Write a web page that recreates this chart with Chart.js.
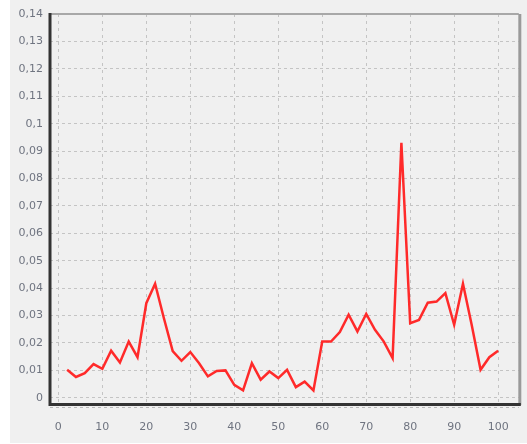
<!DOCTYPE html>
<html>
<head>
<meta charset="utf-8">
<script src="https://cdn.jsdelivr.net/npm/chart.js@4/dist/chart.umd.min.js"></script>
<style>
html,body{margin:0;padding:0;background:#ffffff;}
#wrap{width:527px;height:444px;}
</style>
</head>
<body>
<div id="wrap"><canvas id="c" width="527" height="444"></canvas></div>
<script>
const xValues = [2,4,6,8,10,12,14,16,18,20,22,24,26,28,30,32,34,36,38,40,42,44,46,48,50,52,54,56,58,60,62,64,66,68,70,72,74,76,78,80,82,84,86,88,90,92,94,96,98,100];
const yValues = [0.0102,0.0076,0.0090,0.0123,0.0106,0.0172,0.0129,0.0205,0.0148,0.0345,0.0416,0.0290,0.0170,0.0135,0.0167,0.0126,0.0078,0.0098,0.0100,0.0047,0.0027,0.0126,0.0066,0.0096,0.0072,0.0102,0.0039,0.0059,0.0027,0.0205,0.0205,0.0240,0.0303,0.0242,0.0306,0.0248,0.0205,0.0145,0.0930,0.0272,0.0284,0.0347,0.0351,0.0382,0.0266,0.0416,0.0265,0.0102,0.0148,0.0172];
const xTicks = [0,10,20,30,40,50,60,70,80,90,100];
const yTicks = [0,0.01,0.02,0.03,0.04,0.05,0.06,0.07,0.08,0.09,0.1,0.11,0.12,0.13,0.14];

const points = xValues.map((x,i)=>({x:x,y:yValues[i]}));

const frame = {
  id:'frame',
  beforeDraw(chart){
    const ctx = chart.ctx;
    ctx.save();
    ctx.fillStyle = '#ffffff';
    ctx.fillRect(0,0,chart.width,chart.height);
    ctx.fillStyle = '#f0f0f0';
    ctx.fillRect(10,0,chart.width-10,chart.height-1);
    ctx.restore();
  },
  afterDraw(chart){
    const a = chart.chartArea, ctx = chart.ctx;
    ctx.save();
    ctx.lineCap = 'butt';
    // top border
    ctx.strokeStyle = '#a8a8a8'; ctx.lineWidth = 2;
    ctx.beginPath(); ctx.moveTo(a.left, a.top); ctx.lineTo(a.right, a.top); ctx.stroke();
    // right border
    ctx.strokeStyle = '#9a9a9a'; ctx.lineWidth = 3;
    ctx.beginPath(); ctx.moveTo(a.right+1, a.top); ctx.lineTo(a.right+1, a.bottom+2); ctx.stroke();
    // bottom shadow
    ctx.strokeStyle = '#b8b8b8'; ctx.lineWidth = 1; ctx.setLineDash([3,3]);
    ctx.beginPath(); ctx.moveTo(a.left, a.bottom+4.5); ctx.lineTo(a.right, a.bottom+4.5); ctx.stroke();
    ctx.setLineDash([]);
    // left & bottom axes
    ctx.strokeStyle = '#333333'; ctx.lineWidth = 3;
    ctx.beginPath(); ctx.moveTo(a.left, a.top-1); ctx.lineTo(a.left, a.bottom+1.5); ctx.lineTo(a.right+2, a.bottom+1.5); ctx.stroke();
    ctx.restore();
  }
};

new Chart(document.getElementById('c'), {
  type:'line',
  data:{datasets:[{
    data:points,
    borderColor:'#ff2a2a',
    borderWidth:2.5,
    pointRadius:0,
    tension:0,
    fill:false
  }]},
  options:{
    responsive:false,
    animation:false,
    devicePixelRatio:1,
    layout:{padding:{top:14,right:8,left:0,bottom:0}},
    plugins:{legend:{display:false},tooltip:{enabled:false}},
    scales:{
      x:{
        type:'linear',
        min:-1.9,max:104.7,
        afterBuildTicks(axis){ axis.ticks = xTicks.map(v=>({value:v})); },
        afterFit(axis){ axis.height = 41; },
        grid:{color:'#c4c4c4',lineWidth:1,drawTicks:false},
        border:{display:false,dash:[3,4]},
        ticks:{padding:18,maxRotation:0,autoSkip:false,color:'#6f7480',font:{family:'DejaVu Sans',size:11},
          callback:(v)=>String(v)}
      },
      y:{
        type:'linear',
        min:-0.0019,max:0.14,
        afterBuildTicks(axis){ axis.ticks = yTicks.map(v=>({value:v})); },
        afterFit(axis){ axis.width = 50; },
        grid:{color:'#c4c4c4',lineWidth:1,drawTicks:false},
        border:{display:false,dash:[3,3]},
        ticks:{padding:7,autoSkip:false,color:'#6f7480',font:{family:'DejaVu Sans',size:11},
          callback:(v)=>String(+v.toFixed(2)).replace('.',',')}
      }
    }
  },
  plugins:[frame]
});
</script>
</body>
</html>
